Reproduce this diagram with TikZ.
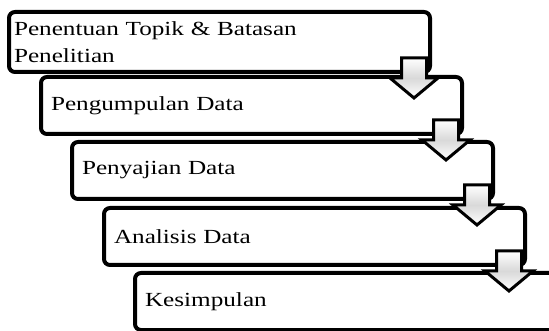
\documentclass[tikz,border=0pt]{standalone}
\usepackage{fontspec}
\setmainfont{Liberation Serif}[FakeStretch=1.26]
\usetikzlibrary{calc}

\begin{document}
\begin{tikzpicture}[x=1pt,y=1pt,
  stepbox/.style={draw=black, line width=4pt, rounded corners=6pt, anchor=north west,
    minimum height=57pt, inner xsep=10pt, inner ysep=2pt, text width=401pt, align=left,
    font=\fontsize{20}{27}\selectfont},
  arrowline/.style={draw=black, line width=3pt, top color=white, bottom color=white, middle color=gray!30},
  downarrow/.pic={\path[arrowline] (-12.5,20) -- (12.5,20) -- (12.5,0) -- (24,0) -- (0,-20) -- (-24,0) -- (-12.5,0) -- cycle;}]

\useasboundingbox (0,0) rectangle (549,-331);

% Draw the steps
\node[stepbox, inner xsep=5pt, text width=411pt, minimum height=60pt] (b1) at (7,-10) {Penentuan Topik \& Batasan\\Penelitian};
\node[stepbox] (b2) at (39,-75)  {Pengumpulan Data};
\node[stepbox] (b3) at (70,-140) {Penyajian Data};
\node[stepbox] (b4) at (102,-206) {Analisis Data};
\node[stepbox] (b5) at (133,-271) {Kesimpulan};

% Draw the arrows between steps
\foreach \i in {1,...,4}
  \pic at ($(b\i.south east)+(-18,-4)$) {downarrow};

\end{tikzpicture}
\end{document}
